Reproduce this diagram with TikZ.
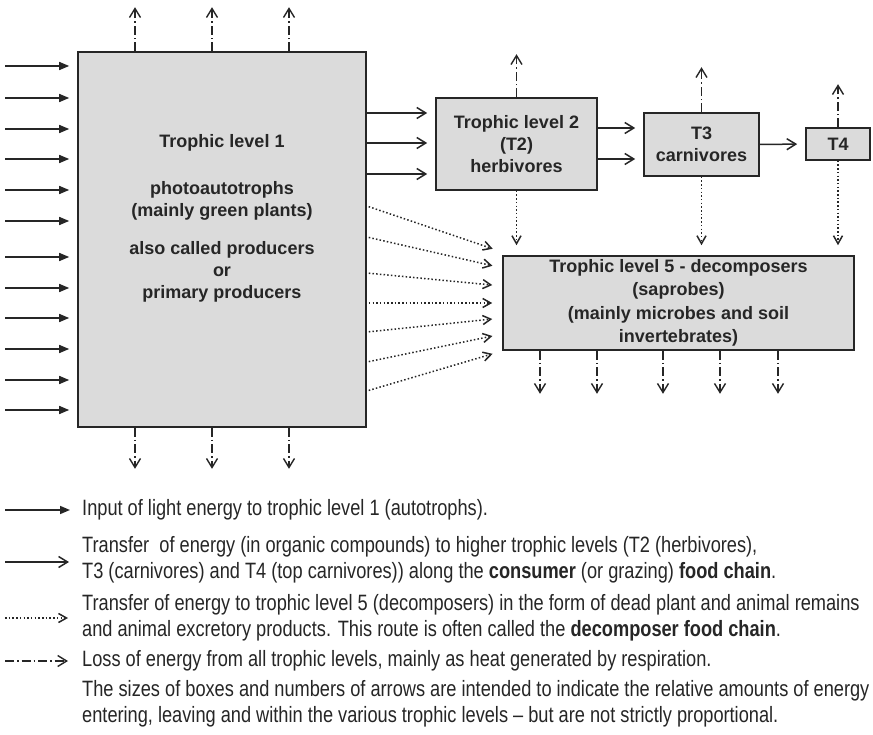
\documentclass[tikz,border=0pt]{standalone}
\usepackage{fontspec}
\setmainfont{Liberation Sans}
\newfontfamily\legfont[FakeStretch=0.82]{Liberation Sans}
\usetikzlibrary{arrows.meta}
\definecolor{boxgray}{gray}{0.86}
\definecolor{inkgray}{gray}{0.15}
\tikzset{
	lvlbox/.style={draw=inkgray, line width=1.6pt, fill=boxgray, align=center, text=inkgray, font=\bfseries\fontsize{18}{22}\selectfont},
	boxtext/.style={align=center, text=inkgray, font=\bfseries\fontsize{18}{22}\selectfont},
	legtext/.style={anchor=west, align=left, inner sep=2pt, text=inkgray, font=\legfont\fontsize{22.2}{26.5}\selectfont},
	inarrow/.style={draw=inkgray, line width=1.5pt, -{Triangle[length=10pt,width=8pt]}, shorten >=8pt},
	feedarrow/.style={draw=inkgray, line width=1.5pt, -{Straight Barb[length=9pt,width=11pt]}, shorten >=8pt},
	deadarrow/.style={draw=inkgray, line width=1.5pt, dash pattern=on 1.5pt off 2.2pt, -{Straight Barb[length=8pt,width=9pt]}, shorten >=10pt},
	heatarrow/.style={draw=inkgray, line width=1.4pt, dash pattern=on 9pt off 3pt on 1.5pt off 3pt, -{Straight Barb[length=9pt,width=11pt]}}
}

\begin{document}
\begin{tikzpicture}[x=1pt, y=-1pt]
			%%%%% START %%%%%
			
			\useasboundingbox (0,0) rectangle (873,735);
			\fill[white] (0,0) rectangle (873,735);
			
			% trophic level boxes
			\node[lvlbox, minimum width=288pt, minimum height=375pt] (tl1) at (222,239.5) {};
			\node[boxtext] (tl1txt) at (222,218.5) {Trophic level 1\\[25pt]
				photoautotrophs\\(mainly green plants)\\[16pt]
				also called producers\\or\\primary producers};
			\node[lvlbox, minimum width=161pt, minimum height=92pt] (tl2) at (516.5,144) {Trophic level 2\\(T2)\\herbivores};
			\node[lvlbox, minimum width=115pt, minimum height=63pt] (t3) at (701.5,144.5) {T3\\carnivores};
			\node[lvlbox, minimum width=64pt, minimum height=32pt] (t4) at (838,144) {T4};
			\node[lvlbox, minimum width=351pt, minimum height=92pt, font=\bfseries\fontsize{18}{23.5}\selectfont] (tl5) at (678.5,303)
				{Trophic level 5 - decomposers\\(saprobes)\\(mainly microbes and soil\\invertebrates)};
			
			% light in
			\foreach \y in {66,98,129,159,190,221,257,288,318,349,380,410}{
				\coordinate (sun) at (5,\y);
				\draw[inarrow] (sun) -- (sun -| tl1.west);
			}
			
			% consumer chain
			\foreach \y in {113,143,174}
				\draw[feedarrow] (tl1.east |- 0,\y) -- (tl2.west |- 0,\y);
			\foreach \y in {128,159}
				\draw[feedarrow] (tl2.east |- 0,\y) -- (t3.west |- 0,\y);
			\draw[feedarrow] (t3.east) -- (t4.west);
			
			% decomposer chain
			\foreach \ya/\yb in {206/252,237/268,273/286,303/303,332/318,362/334,391/351}
				\draw[deadarrow, shorten <=2pt] (tl1.east |- 0,\ya) -- (tl5.west |- 0,\yb);
			\draw[deadarrow] (tl2.south) -- (tl2.south |- tl5.north);
			\draw[deadarrow] (t3.south) -- (t3.south |- tl5.north);
			\draw[deadarrow] (t4.south) -- (t4.south |- tl5.north);
			
			% heat losses
			\foreach \x in {135,212,289}{
				\draw[heatarrow] (tl1.north -| \x,0) -- ++(0,-44);
				\draw[heatarrow] (tl1.south -| \x,0) -- ++(0,41);
			}
			\draw[heatarrow] (tl2.north) -- ++(0,-43);
			\draw[heatarrow] (t3.north) -- ++(0,-45);
			\draw[heatarrow] (t4.north) -- ++(0,-43);
			\foreach \x in {540,597,663,720,778}
				\draw[heatarrow] (tl5.south -| \x,0) -- ++(0,43);
			
			% key
			\node[legtext] (leg1) at (80,510) {Input of light energy to trophic level 1 (autotrophs).};
			\node[legtext] (leg2) at (80,560) {Transfer\ \ of energy (in organic compounds) to higher trophic levels (T2 (herbivores),\\
				T3 (carnivores) and T4 (top carnivores)) along the \textbf{consumer} (or grazing) \textbf{food chain}.};
			\node[legtext] (leg3) at (80,618) {Transfer of energy to trophic level 5 (decomposers) in the form of dead plant and animal remains\\
				and animal excretory products. This route is often called the \textbf{decomposer food chain}.};
			\node[legtext] (leg4) at (80,661) {Loss of energy from all trophic levels, mainly as heat generated by respiration.};
			\node[legtext] (leg5) at (80,704) {The sizes of boxes and numbers of arrows are intended to indicate the relative amounts of energy\\
				entering, leaving and within the various trophic levels \textendash{} but are not strictly proportional.};
			
			\coordinate (k1) at (5,510);
			\coordinate (k2) at (5,562);
			\coordinate (k3) at (5,618);
			\coordinate (k4) at (5,661);
			\draw[inarrow, shorten >=10pt] (k1) -- (k1 -| leg1.west);
			\draw[feedarrow, shorten >=11pt] (k2) -- (k2 -| leg2.west);
			\draw[deadarrow, shorten >=12pt] (k3) -- (k3 -| leg3.west);
			\draw[heatarrow, shorten >=12pt] (k4) -- (k4 -| leg4.west);
			
			%%%%% END %%%%%
\end{tikzpicture}
\end{document}
